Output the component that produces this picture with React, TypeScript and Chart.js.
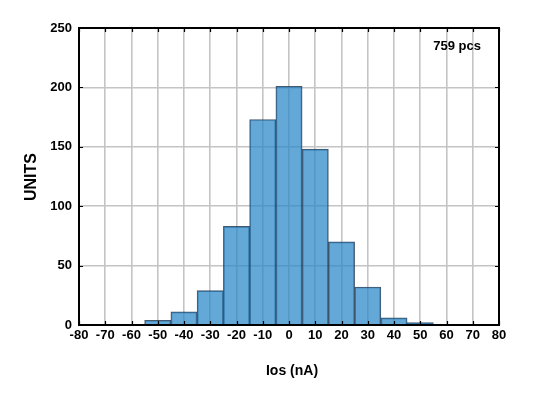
import React, { useEffect, useRef } from "react";
import { Chart, registerables } from "chart.js";

Chart.register(...registerables);

const binCenters = [-50, -40, -30, -20, -10, 0, 10, 20, 30, 40, 50];
const counts = [4, 11, 29, 83, 173, 201, 148, 70, 32, 6, 2];
const xTickValues = [-80, -70, -60, -50, -40, -30, -20, -10, 0, 10, 20, 30, 40, 50, 60, 70, 80];
const yTickValues = [0, 50, 100, 150, 200, 250];
const sampleLabel = "759 pcs";
const xTitle = "Ios (nA)";
const yTitle = "UNITS";

const FONT = "'Liberation Sans', Arial, sans-serif";

const framePlugin = {
  id: "framePlugin",
  afterDatasetsDraw(chart: any) {
    const { ctx, chartArea } = chart;
    const { left, right, top, bottom } = chartArea;
    const xs = chart.scales.x;
    const ys = chart.scales.y;
    ctx.save();
    ctx.strokeStyle = "#000";
    ctx.lineWidth = 1.2;
    const tl = 4;
    ctx.beginPath();
    xTickValues.forEach((v) => {
      const px = Math.round(xs.getPixelForValue(v)) + 0.5;
      ctx.moveTo(px, top);
      ctx.lineTo(px, top + tl);
      ctx.moveTo(px, bottom);
      ctx.lineTo(px, bottom - tl);
    });
    yTickValues.forEach((v) => {
      const py = Math.round(ys.getPixelForValue(v)) + 0.5;
      ctx.moveTo(left, py);
      ctx.lineTo(left + tl, py);
      ctx.moveTo(right, py);
      ctx.lineTo(right - tl, py);
    });
    ctx.stroke();
    ctx.lineWidth = 2;
    ctx.strokeRect(left, top, right - left, bottom - top);

    ctx.fillStyle = "#000";
    ctx.font = `bold 13px ${FONT}`;
    ctx.textAlign = "right";
    ctx.textBaseline = "middle";
    ctx.fillText(sampleLabel, 481, 46);

    ctx.font = `bold 14px ${FONT}`;
    ctx.textAlign = "center";
    ctx.fillText(xTitle, 292, 371);

    ctx.save();
    ctx.translate(32, 177);
    ctx.rotate(-Math.PI / 2);
    ctx.font = `bold 16px ${FONT}`;
    ctx.fillText(yTitle, 0, 0);
    ctx.restore();
    ctx.restore();
  },
};

export default function App() {
  const ref = useRef<HTMLCanvasElement | null>(null);
  useEffect(() => {
    if (!ref.current) return;
    const chart = new Chart(ref.current, {
      type: "bar",
      data: {
        datasets: [
          {
            data: binCenters.map((x, i) => ({ x, y: counts[i] })),
            backgroundColor: "rgba(40,135,200,0.72)",
            borderColor: "rgba(35,60,85,0.85)",
            borderWidth: 1,
            barPercentage: 1,
            categoryPercentage: 1,
          } as any,
        ],
      },
      options: {
        animation: false,
        responsive: false,
        devicePixelRatio: 1,
        layout: { padding: { top: 28, right: 40, left: 0, bottom: 0 } },
        plugins: { legend: { display: false }, tooltip: { enabled: false }, title: { display: false } },
        scales: {
          x: {
            type: "linear",
            min: -80,
            max: 80,
            offset: false,
            afterBuildTicks: (s: any) => {
              s.ticks = xTickValues.map((v) => ({ value: v }));
            },
            afterFit: (s: any) => {
              s.height = 72;
            },
            ticks: {
              color: "#000",
              font: { family: FONT, size: 13, weight: "bold" },
              padding: 3,
              maxRotation: 0,
              autoSkip: false,
            },
            grid: { color: "#c4c4c4", lineWidth: 1.6, drawTicks: false, offset: false },
            border: { display: false },
          },
          y: {
            min: 0,
            max: 250,
            afterBuildTicks: (s: any) => {
              s.ticks = yTickValues.map((v) => ({ value: v }));
            },
            afterFit: (s: any) => {
              s.width = 79;
            },
            ticks: {
              color: "#000",
              font: { family: FONT, size: 13, weight: "bold" },
              padding: 7,
            },
            grid: { color: "#c4c4c4", lineWidth: 1.6, drawTicks: false },
            border: { display: false },
          },
        },
      } as any,
      plugins: [framePlugin],
    });
    return () => chart.destroy();
  }, []);
  return (
    <div style={{ position: "fixed", left: 0, top: 0, width: 539, height: 397, background: "#fff" }}>
      <canvas ref={ref} width={539} height={397} style={{ width: 539, height: 397 }} />
    </div>
  );
}
